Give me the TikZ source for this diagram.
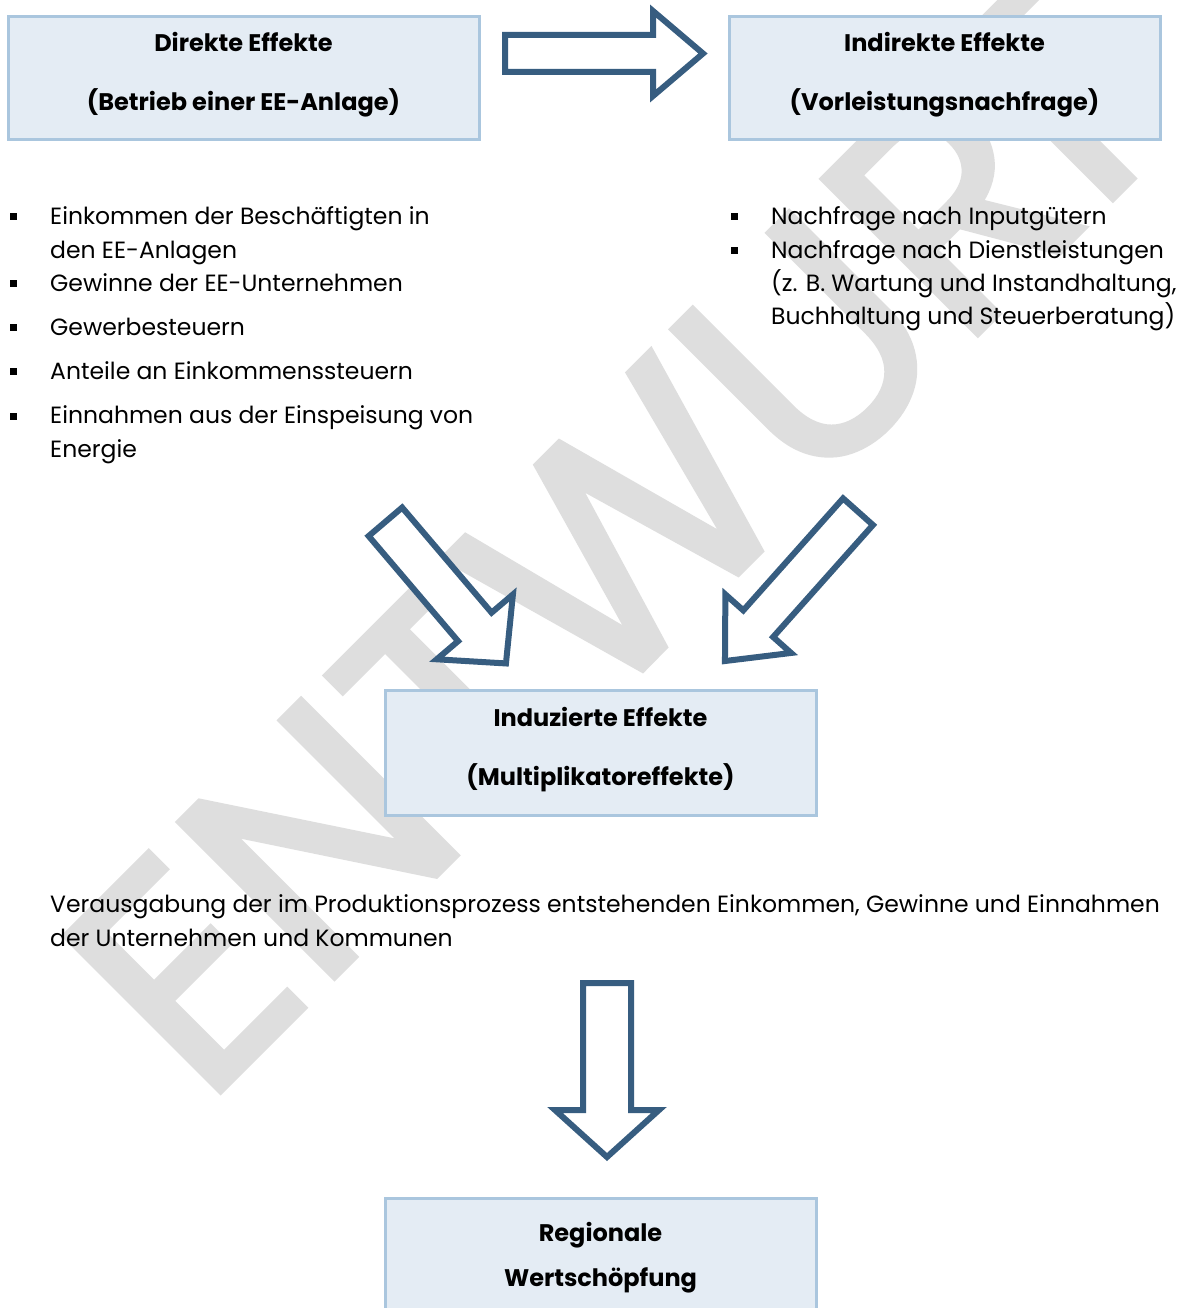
\documentclass[tikz,border=0pt]{standalone}
\usepackage{fontspec}
\setmainfont{Poppins}
\newfontfamily\wmfont{Poppins}[FakeBold=2]
\usepackage{graphicx}
\definecolor{boxfill}{RGB}{228,236,244}
\definecolor{boxline}{RGB}{170,198,222}
\definecolor{arrowc}{RGB}{55,93,128}
\definecolor{wmgray}{RGB}{222,222,222}
\tikzset{
  ebox/.style={draw=boxline, line width=3pt, fill=boxfill, inner sep=0pt},
  headtxt/.style={anchor=base, inner sep=0pt, font=\fontsize{24}{28}\selectfont\bfseries},
  bodytxt/.style={anchor=base west, inner sep=0pt, font=\fontsize{23.5}{28}\selectfont},
  bul/.style={fill=black, inner sep=0pt, minimum size=7pt},
  blockarrow/.style={draw=arrowc, line width=6pt, fill=white, line join=miter}
}
\newcommand{\blockarr}[8]{% name, x, y, angle, L, w, h, d
  \draw[blockarrow, shift={(#2,#3)}, rotate=#4] (0,-#6) -- (#5-#8,-#6) -- (#5-#8,-#7) -- (#5,0) -- (#5-#8,#7) -- (#5-#8,#6) -- (0,#6) -- cycle;
  \coordinate (#1) at (#2,#3);
}
\begin{document}
\begin{tikzpicture}[x=1pt,y=-1pt]
\clip (0,0) rectangle (1197,1308);
\fill[white] (0,0) rectangle (1197,1308);
% watermark
\node[text=wmgray, anchor=south west, inner sep=0pt, rotate=45] (wm) at (205,1110) {\resizebox{1418pt}{219pt}{\wmfont ENTWURF}};
% boxes
\node[ebox, minimum width=471pt, minimum height=123pt] (direkt) at (243.5,78.5) {};
\node[ebox, minimum width=431pt, minimum height=123pt] (indirekt) at (944.5,78.5) {};
\node[ebox, minimum width=431pt, minimum height=125pt] (induz) at (600.5,752.5) {};
\node[ebox, minimum width=431pt, minimum height=130pt] (region) at (600.5,1263) {};
% box texts
\node[headtxt] (d1) at (243.5,52) {Direkte Effekte};
\node[headtxt] (d2) at (243.5,111) {(Betrieb einer EE-Anlage)};
\node[headtxt] (i1) at (944.5,52) {Indirekte Effekte};
\node[headtxt] (i2) at (944.5,111) {(Vorleistungsnachfrage)};
\node[headtxt] (m1) at (600.5,726) {Induzierte Effekte};
\node[headtxt] (m2) at (600.5,785) {(Multiplikatoreffekte)};
\node[headtxt] (r1) at (600.5,1241) {Regionale};
\node[headtxt] (r2) at (600.5,1286) {Wertschöpfung};
% arrows
\blockarr{a1}{505}{53.5}{0}{198}{18.5}{42.5}{50}
\blockarr{a2}{385.4}{521.8}{-49.6}{186}{22}{50}{48}
\blockarr{a3}{858}{511.7}{-131.7}{200}{20}{44}{50}
\blockarr{a4}{607}{983}{-90}{174}{24}{52}{47}
% left list
\node[bul] (bl1) at (13,216) {};
\node[bul] (bl2) at (13,283) {};
\node[bul] (bl3) at (13,327) {};
\node[bul] (bl4) at (13,371) {};
\node[bul] (bl5) at (13,416) {};
\node[bodytxt] (l1) at (50,224) {Einkommen der Beschäftigten in};
\node[bodytxt] (l1b) at (50,258) {den EE-Anlagen};
\node[bodytxt] (l2) at (50,291) {Gewinne der EE-Unternehmen};
\node[bodytxt] (l3) at (50,335) {Gewerbesteuern};
\node[bodytxt] (l4) at (50,379) {Anteile an Einkommenssteuern};
\node[bodytxt] (l5) at (50,423) {Einnahmen aus der Einspeisung von};
\node[bodytxt] (l5b) at (50,457) {Energie};
% right list
\node[bul] (br1) at (734,216) {};
\node[bul] (br2) at (734,250) {};
\node[bodytxt] (r1l) at (771,224) {Nachfrage nach Inputgütern};
\node[bodytxt] (r2l) at (771,258) {Nachfrage nach Dienstleistungen};
\node[bodytxt] (r3l) at (771,291) {(z. B. Wartung und Instandhaltung,};
\node[bodytxt] (r4l) at (771,324) {Buchhaltung und Steuerberatung)};
% middle paragraph
\node[bodytxt] (p1) at (50,912) {Verausgabung der im Produktionsprozess entstehenden Einkommen, Gewinne und Einnahmen};
\node[bodytxt] (p2) at (50,946) {der Unternehmen und Kommunen};
\end{tikzpicture}
\end{document}
